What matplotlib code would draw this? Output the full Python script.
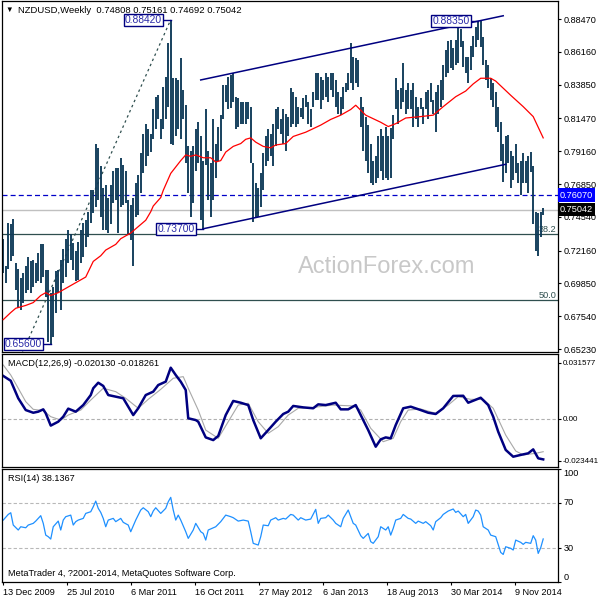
import numpy as np
import matplotlib
matplotlib.use('Agg')
import matplotlib.pyplot as plt
from matplotlib.transforms import blended_transform_factory as blend

plt.rcParams['font.family'] = ['Liberation Sans', 'DejaVu Sans']
plt.rcParams['font.size'] = 6.6

# weekly NZDUSD bars (high / low), oldest first
highs = [0.730, 0.711, 0.741, 0.740, 0.744, 0.713, 0.709, 0.702, 0.706, 0.711,
         0.717, 0.714, 0.715, 0.713, 0.720, 0.726, 0.726, 0.708, 0.708, 0.692,
         0.696, 0.707, 0.708, 0.715, 0.723, 0.730, 0.736, 0.733, 0.727, 0.721,
         0.728, 0.736, 0.741, 0.743, 0.749, 0.764, 0.764, 0.797, 0.794, 0.781,
         0.766, 0.768, 0.759, 0.768, 0.778, 0.780, 0.780, 0.787, 0.782, 0.778,
         0.757, 0.754, 0.759, 0.769, 0.775, 0.790, 0.804, 0.811, 0.807, 0.804,
         0.821, 0.830, 0.831, 0.814, 0.837, 0.844, 0.868, 0.8842, 0.843, 0.843,
         0.842, 0.857, 0.835, 0.824, 0.795, 0.792, 0.795, 0.807, 0.812, 0.802,
         0.785, 0.821, 0.792, 0.783, 0.814, 0.797, 0.809, 0.817, 0.838, 0.838,
         0.844, 0.845, 0.847, 0.830, 0.829, 0.826, 0.826, 0.826, 0.826, 0.823,
         0.783, 0.769, 0.766, 0.776, 0.790, 0.802, 0.807, 0.804, 0.811, 0.821,
         0.823, 0.814, 0.821, 0.818, 0.816, 0.836, 0.833, 0.830, 0.823, 0.822,
         0.829, 0.831, 0.826, 0.821, 0.833, 0.847, 0.847, 0.844, 0.842, 0.847,
         0.844, 0.847, 0.847, 0.842, 0.833, 0.830, 0.837, 0.840, 0.847, 0.868,
         0.858, 0.857, 0.856, 0.830, 0.823, 0.816, 0.810, 0.797, 0.785, 0.788,
         0.802, 0.807, 0.802, 0.809, 0.802, 0.808, 0.817, 0.843, 0.835, 0.836,
         0.854, 0.835, 0.840, 0.835, 0.840, 0.830, 0.823, 0.829, 0.823, 0.833,
         0.835, 0.840, 0.828, 0.833, 0.838, 0.842, 0.852, 0.863, 0.869, 0.870,
         0.864, 0.870, 0.881, 0.878, 0.869, 0.858, 0.858, 0.866, 0.873, 0.879,
         0.8835, 0.883, 0.872, 0.856, 0.852, 0.843, 0.840, 0.833, 0.823, 0.812,
         0.797, 0.802, 0.803, 0.792, 0.788, 0.797, 0.783, 0.785, 0.790, 0.785,
         0.788, 0.791, 0.781, 0.749, 0.748, 0.749, 0.75161]
lows = [0.706, 0.699, 0.709, 0.714, 0.718, 0.694, 0.681, 0.680, 0.685, 0.692,
        0.694, 0.692, 0.696, 0.699, 0.700, 0.699, 0.703, 0.689, 0.657, 0.656,
        0.661, 0.678, 0.692, 0.680, 0.699, 0.703, 0.713, 0.715, 0.708, 0.700,
        0.701, 0.713, 0.717, 0.724, 0.731, 0.741, 0.748, 0.752, 0.757, 0.745,
        0.736, 0.736, 0.734, 0.740, 0.755, 0.757, 0.734, 0.752, 0.754, 0.755,
        0.733, 0.729, 0.711, 0.745, 0.747, 0.762, 0.776, 0.781, 0.788, 0.791,
        0.800, 0.807, 0.814, 0.800, 0.807, 0.814, 0.823, 0.797, 0.796, 0.802,
        0.807, 0.800, 0.814, 0.783, 0.762, 0.745, 0.755, 0.778, 0.783, 0.743,
        0.737, 0.782, 0.757, 0.745, 0.757, 0.773, 0.785, 0.792, 0.814, 0.826,
        0.821, 0.822, 0.826, 0.807, 0.809, 0.811, 0.811, 0.811, 0.814, 0.783,
        0.742, 0.745, 0.745, 0.752, 0.764, 0.781, 0.785, 0.788, 0.781, 0.795,
        0.807, 0.804, 0.797, 0.792, 0.802, 0.809, 0.811, 0.809, 0.811, 0.816,
        0.814, 0.823, 0.811, 0.809, 0.823, 0.828, 0.828, 0.821, 0.828, 0.830,
        0.826, 0.835, 0.830, 0.823, 0.818, 0.817, 0.821, 0.833, 0.835, 0.840,
        0.835, 0.840, 0.837, 0.809, 0.792, 0.785, 0.776, 0.769, 0.768, 0.769,
        0.773, 0.778, 0.771, 0.773, 0.771, 0.773, 0.800, 0.821, 0.811, 0.821,
        0.826, 0.818, 0.821, 0.821, 0.809, 0.814, 0.809, 0.821, 0.811, 0.821,
        0.814, 0.826, 0.818, 0.805, 0.818, 0.823, 0.828, 0.844, 0.847, 0.850,
        0.849, 0.852, 0.854, 0.865, 0.851, 0.847, 0.840, 0.849, 0.858, 0.865,
        0.870, 0.865, 0.852, 0.842, 0.836, 0.828, 0.823, 0.809, 0.805, 0.785,
        0.770, 0.776, 0.783, 0.766, 0.771, 0.776, 0.769, 0.761, 0.769, 0.769,
        0.762, 0.777, 0.740, 0.721, 0.7175, 0.731, 0.74692]

# red moving average (bar index, value)
ma_idx = [0, 3, 5, 9, 12, 15, 17, 19, 22, 24, 27, 29, 33, 36, 39, 41, 45, 47, 51, 57,
          59, 60, 63, 64, 67, 71, 73, 75, 77, 80, 83, 85, 87, 89, 92, 95, 97, 99, 101, 104,
          107, 109, 113, 116, 121, 127, 131, 135, 139, 141, 145, 151, 154, 157, 161, 167, 172, 176, 181, 185,
          188, 191, 195, 197, 203, 208, 212, 216]
ma_val = [0.673, 0.678, 0.681, 0.683, 0.685, 0.690, 0.692, 0.690, 0.692, 0.694,
          0.697, 0.699, 0.703, 0.714, 0.718, 0.722, 0.726, 0.730, 0.734, 0.743,
          0.749, 0.753, 0.759, 0.764, 0.776, 0.785, 0.789, 0.788, 0.789, 0.787,
          0.787, 0.784, 0.785, 0.791, 0.795, 0.797, 0.800, 0.801, 0.798, 0.795,
          0.794, 0.796, 0.797, 0.802, 0.805, 0.810, 0.814, 0.817, 0.821, 0.824,
          0.817, 0.812, 0.809, 0.811, 0.815, 0.816, 0.817, 0.823, 0.830, 0.834,
          0.839, 0.843, 0.843, 0.841, 0.831, 0.823, 0.816, 0.801]

# MACD(12,26,9) main and signal
macd_idx = [0, 3, 6, 9, 12, 14, 16, 17, 19, 22, 24, 26, 29, 32, 35, 36, 38, 40, 42, 45,
            48, 50, 52, 54, 57, 60, 62, 65, 67, 69, 71, 73, 74, 77, 78, 81, 84, 86, 89, 92,
            95, 98, 100, 103, 106, 109, 112, 114, 116, 120, 124, 126, 129, 133, 135, 138, 141, 143, 146, 149,
            151, 153, 155, 157, 160, 163, 167, 170, 173, 176, 180, 184, 186, 191, 194, 196, 198, 201, 204, 207,
            210, 212, 214, 216]
macd_val = [0.0241, 0.0214, 0.0116, 0.0050, 0.0035, 0.0041, 0.0054, 0.0032, -0.0037, -0.0015,
            0.0013, 0.0058, 0.0041, 0.0078, 0.0134, 0.0172, 0.0203, 0.0185, 0.0134, 0.0125,
            0.0116, 0.0069, 0.0022, 0.0060, 0.0134, 0.0153, 0.0190, 0.0209, 0.0287, 0.0246,
            0.0209, 0.0162, 0.0004, -0.0006, -0.0015, -0.0103, -0.0118, -0.0095, 0.0022, 0.0101,
            0.0091, 0.0078, -0.0006, -0.0108, -0.0062, -0.0015, 0.0028, 0.0041, 0.0073, 0.0065,
            0.0060, 0.0082, 0.0078, 0.0091, 0.0054, 0.0054, 0.0078, 0.0022, -0.0062, -0.0155,
            -0.0114, -0.0103, -0.0108, -0.0034, 0.0060, 0.0069, 0.0050, 0.0035, 0.0028, 0.0060,
            0.0129, 0.0130, 0.0091, 0.0119, 0.0078, 0.0013, -0.0071, -0.0173, -0.0211, -0.0201,
            -0.0192, -0.0170, -0.0220, -0.0226]
sig_idx = [0, 3, 6, 9, 12, 16, 19, 23, 26, 31, 35, 40, 45, 49, 54, 58, 63, 68, 72, 74,
           78, 81, 86, 90, 94, 98, 102, 106, 110, 114, 118, 124, 132, 140, 143, 147, 152, 156, 159, 162,
           167, 173, 178, 182, 187, 192, 196, 201, 205, 208, 213, 216]
sig_val = [0.0302, 0.0246, 0.0172, 0.0097, 0.0054, 0.0047, 0.0013, -0.0006, 0.0022, 0.0050,
           0.0106, 0.0172, 0.0153, 0.0116, 0.0060, 0.0110, 0.0166, 0.0228, 0.0237, 0.0172,
           0.0050, -0.0062, -0.0108, -0.0015, 0.0078, 0.0088, -0.0015, -0.0080, -0.0043, 0.0022,
           0.0060, 0.0065, 0.0078, 0.0073, 0.0050, -0.0052, -0.0127, -0.0108, -0.0015, 0.0050,
           0.0056, 0.0032, 0.0078, 0.0125, 0.0110, 0.0110, 0.0060, -0.0090, -0.0179, -0.0201,
           -0.0192, -0.0183]

# RSI(14)
rsi_idx = [0, 2, 3, 4, 6, 7, 9, 10, 12, 13, 15, 16, 17, 18, 19, 20, 22, 23, 24, 25,
           27, 28, 29, 30, 32, 33, 35, 36, 37, 38, 39, 40, 41, 42, 44, 45, 47, 48, 50, 51,
           53, 55, 56, 58, 59, 60, 61, 63, 65, 66, 67, 68, 69, 70, 71, 73, 74, 76, 77, 79,
           80, 81, 82, 84, 85, 87, 89, 91, 92, 94, 96, 98, 99, 100, 102, 103, 104, 106, 107, 109,
           110, 112, 113, 115, 116, 118, 119, 121, 123, 125, 126, 127, 129, 130, 132, 133, 135, 136, 138, 140,
           141, 143, 144, 146, 147, 148, 150, 151, 153, 154, 155, 156, 157, 159, 160, 162, 163, 165, 166, 168,
           169, 171, 172, 173, 175, 176, 178, 180, 181, 182, 184, 185, 186, 188, 189, 190, 191, 192, 194, 195,
           197, 198, 199, 200, 201, 203, 204, 205, 207, 208, 209, 211, 212, 213, 214, 215, 216]
rsi_val = [54.8, 59.8, 61.3, 50.4, 46.0, 48.9, 48.0, 50.4, 51.9, 53.9,
           58.7, 51.9, 41.5, 40.1, 38.0, 48.9, 53.9, 46.0, 54.8, 57.8,
           59.2, 50.4, 53.4, 54.8, 56.3, 60.7, 62.2, 66.6, 71.6, 65.2,
           61.6, 56.3, 48.9, 54.8, 56.3, 53.4, 56.3, 52.8, 50.4, 44.5,
           54.8, 63.7, 65.7, 62.2, 57.8, 62.8, 65.7, 60.7, 65.2, 71.0,
           74.9, 63.7, 54.8, 59.2, 54.8, 44.5, 38.6, 46.0, 51.9, 44.5,
           43.0, 37.1, 46.0, 48.0, 48.9, 53.4, 59.2, 57.8, 56.9, 53.9,
           54.8, 53.9, 44.5, 34.2, 32.7, 40.1, 50.4, 49.8, 54.8, 56.9,
           54.8, 56.3, 55.7, 59.8, 59.2, 54.8, 56.9, 54.8, 55.7, 64.3,
           51.9, 56.3, 56.9, 59.2, 54.8, 51.9, 48.9, 56.3, 63.7, 51.9,
           50.4, 41.0, 38.6, 43.0, 35.7, 34.2, 40.1, 48.9, 46.0, 48.9,
           41.5, 47.5, 54.8, 56.3, 59.8, 56.3, 55.7, 51.9, 53.9, 51.9,
           53.4, 49.8, 46.0, 53.4, 56.9, 59.8, 62.8, 64.6, 61.6, 62.8,
           57.8, 59.8, 51.9, 57.8, 63.7, 62.8, 59.2, 48.9, 46.0, 41.5,
           40.1, 33.3, 26.2, 24.4, 31.2, 29.8, 28.3, 37.1, 35.1, 33.3,
           35.1, 34.2, 41.0, 37.1, 25.3, 30.3, 38.1]

price_ticks = [0.88470, 0.86160, 0.83850, 0.81470, 0.79160, 0.76850,
               0.74540, 0.72160, 0.69850, 0.67540, 0.65230]
date_labels = ['13 Dec 2009', '25 Jul 2010', '6 Mar 2011', '16 Oct 2011', '27 May 2012',
               '6 Jan 2013', '18 Aug 2013', '30 Mar 2014', '9 Nov 2014']
ohlc_last = [0.74808, 0.75161, 0.74692, 0.75042]
resist = 0.76070
fib_low, fib_high = 0.4890, 0.8842
fib_low_bar, fib_high_bar = -33, 67
chan_up_x, chan_up_y = [79, 200], [0.8418, 0.8870]
chan_dn_x, chan_dn_y = [80, 201], [0.7370, 0.7824]
swing_bar = [67, 190, 19, 80]
swing_px = [0.88420, 0.88350, 0.65600, 0.73700]
macd_ticks = [0.031577, 0.0, -0.023441]
macd_now, signal_now = -0.020130, -0.018261
rsi_now = 38.1367
rsi_levels = [0, 30, 70, 100]

BAR = '#0f3a58'
NAVY = '#000080'
FIB = '#2f4f4f'

n = len(highs)
x = np.arange(n)
xlim = (-0.5, 221.8)

fig = plt.figure(figsize=(6, 6), dpi=100)
ax = fig.add_axes([2 / 600, 248 / 600, 555.7 / 600, 351 / 600])
ax_m = fig.add_axes([2 / 600, 133 / 600, 555.7 / 600, 113 / 600])
ax_r = fig.add_axes([2 / 600, 18 / 600, 555.7 / 600, 113 / 600])

for a in (ax, ax_m, ax_r):
    a.set_xlim(*xlim)
    a.yaxis.tick_right()
    a.tick_params(axis='y', direction='out', length=2.5, width=0.8, pad=1.8, labelsize=6.6)
    a.set_xticks([])
    for s in a.spines.values():
        s.set_linewidth(0.9)

# ---- price panel ----
ax.set_ylim(0.6502, 0.8974)
ax.set_yticks(price_ticks)
ax.set_yticklabels(['%.5f' % v for v in price_ticks])

fig.text(298 / 600, 1 - 273 / 600, 'ActionForex.com', fontsize=17,
         color='#c8c8c8', va='baseline', zorder=0)

fib_levels = [(0.382, '38.2'), (0.5, '50.0')]
ytr = blend(ax.transAxes, ax.transData)
for r, lab in fib_levels:
    lvl = fib_high - r * (fib_high - fib_low)
    ax.axhline(lvl, color=FIB, lw=0.9, zorder=1)
    ax.text(0.997, lvl, lab, transform=ytr, ha='right', va='bottom', color=FIB,
            fontsize=6.6, zorder=1)
ax.plot([fib_low_bar, fib_high_bar], [fib_low, fib_high], color=FIB, lw=0.9,
        ls=(0, (2, 2.5)), zorder=1)

ax.axhline(ohlc_last[3], color='#c0c0c0', lw=1, zorder=1)
ax.axhline(resist, color='#0000c8', lw=0.9, ls=(0, (4, 2.5)), zorder=1)

ax.vlines(x, lows, highs, colors=BAR, lw=1.35, zorder=2)
ax.plot(ma_idx, ma_val, color='red', lw=0.9, zorder=3)

ax.plot(chan_up_x, chan_up_y, color=NAVY, lw=1.1, zorder=3)
ax.plot(chan_dn_x, chan_dn_y, color=NAVY, lw=1.1, zorder=3)

for b, p in zip(swing_bar, swing_px):
    ax.plot([b - 3.5, b], [p, p], color=NAVY, lw=1, zorder=4)
    ax.text(b - 3.5, p, '%.5f' % p, ha='right', va='center', fontsize=7.4,
            color='#2a2aa8', zorder=5, clip_on=True,
            bbox=dict(boxstyle='square,pad=0.12', fc='white', ec=NAVY, lw=1))

ax.text(1.004, resist, '%.5f' % resist, transform=ytr, ha='left', va='center',
        color='white', fontsize=6.6, clip_on=False, zorder=6,
        bbox=dict(boxstyle='square,pad=0.25', fc='#0000ff', ec='none'))
ax.text(1.004, ohlc_last[3], '%.5f' % ohlc_last[3], transform=ytr, ha='left',
        va='center', color='white', fontsize=6.6, clip_on=False, zorder=6,
        bbox=dict(boxstyle='square,pad=0.25', fc='black', ec='none'))

fig.text(5 / 600, 1 - 10.5 / 600, '\u25bc', fontsize=5.5, va='center', color='black')
fig.text(18 / 600, 1 - 10.5 / 600,
         'NZDUSD,Weekly  ' + ' '.join('%.5f' % v for v in ohlc_last),
         fontsize=6.8, va='center', color='black')

# ---- MACD panel ----
ax_m.set_ylim(-0.02686, 0.03637)
ax_m.set_yticks(macd_ticks)
ax_m.set_yticklabels(['0.031577', '0.00', '-0.023441'])
ax_m.tick_params(axis='y', labelsize=5.8, pad=1.2)
ax_m.axhline(0, color='#b0b0b0', lw=0.8, ls=(0, (3, 2)))
ax_m.plot(sig_idx, sig_val, color='#a8a8a8', lw=0.8)
ax_m.plot(macd_idx, macd_val, color=NAVY, lw=1.8)
ax_m.text(0.0103, 0.92, 'MACD(12,26,9) %.6f %.6f' % (macd_now, signal_now),
          transform=ax_m.transAxes, va='center', fontsize=6.6)

# ---- RSI panel ----
ax_r.set_ylim(0, 100)
ax_r.set_yticks(rsi_levels)
ax_r.set_yticklabels([str(v) for v in rsi_levels])
for lbl, va in zip(ax_r.get_yticklabels(), ['bottom', 'center', 'center', 'top']):
    lbl.set_va(va)
for lv in rsi_levels[1:3]:
    ax_r.axhline(lv, color='#b8b8b8', lw=0.8, ls=(0, (3, 2)))
ax_r.plot(rsi_idx, rsi_val, color='#1e90ff', lw=0.9)
ax_r.text(0.0103, 0.92, 'RSI(14) %.4f' % rsi_now, transform=ax_r.transAxes,
          va='center', fontsize=6.6)
ax_r.text(0.0103, 0.071, 'MetaTrader 4, ?2001-2014, MetaQuotes Software Corp.',
          transform=ax_r.transAxes, va='center', fontsize=6.6)

date_pos = np.arange(len(date_labels)) * 25.6
ax_r.set_xticks(date_pos)
ax_r.set_xticklabels(date_labels, ha='left')
ax_r.tick_params(axis='x', direction='out', length=2.5, width=0.8, pad=1.5, labelsize=6.6)

fig.savefig('out.png', dpi=100)
